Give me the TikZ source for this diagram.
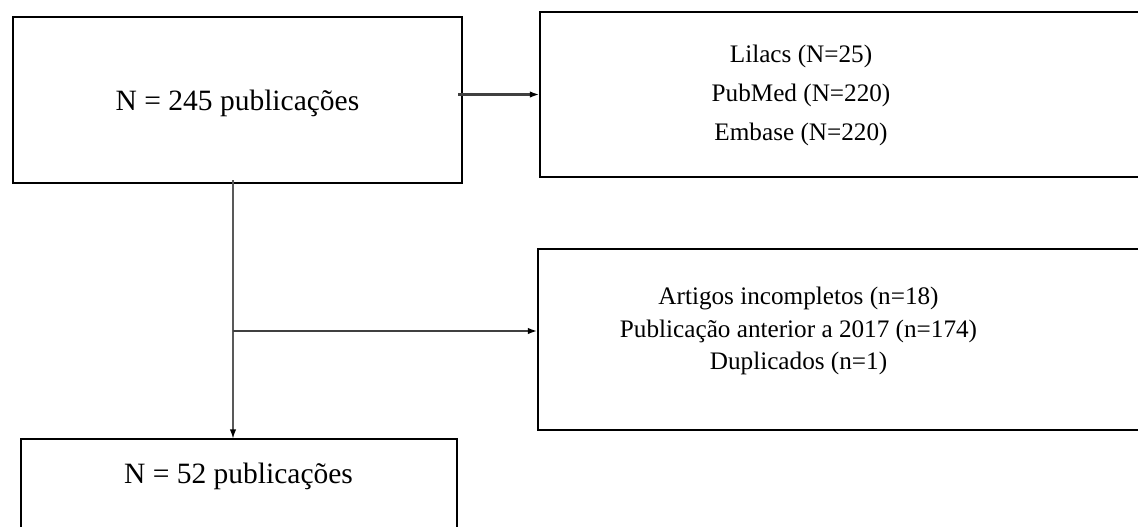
\documentclass[tikz,border=0pt]{standalone}
\usepackage{fontspec}
\setmainfont{Liberation Serif}
\usetikzlibrary{arrows.meta}
\begin{document}
\begin{tikzpicture}[x=0.5pt,y=-0.5pt,
  box/.style={draw=black,line width=1pt,rectangle,inner sep=0pt,outer sep=0pt},
  bigtxt/.style={font=\fontsize{14.75pt}{18pt}\selectfont,inner sep=0pt,anchor=base},
  smalltxt/.style={font=\fontsize{12.6pt}{16pt}\selectfont,inner sep=0pt,anchor=base},
  tip/.style={-{Latex[length=4.8pt,width=3.2pt,color=black]}},
  hline/.style={draw=black!75,line width=1.3pt,tip},
  varr/.style={draw=black!65,line width=0.9pt,tip}]
\useasboundingbox (0,0) rectangle (1138,526);
\clip (0,0) rectangle (1138,526);
% boxes
\node[box,minimum width=224.5pt,minimum height=83pt] (A) at (237.5,100) {};
\node[box,minimum width=320pt,minimum height=82.5pt] (B) at (859.5,94.5) {};
\node[box,minimum width=321.25pt,minimum height=90.25pt] (D) at (858.75,339.25) {};
\node[box,minimum width=218pt,minimum height=80.5pt] (C) at (239,519.5) {};
% texts
\node[bigtxt] (ta) at (237.5,110) {N = 245 publicações};
\node[bigtxt] (tc) at (238.5,483) {N = 52 publicações};
\node[smalltxt] (b1) at (801,62) {Lilacs (N=25)};
\node[smalltxt] (b2) at (801,101) {PubMed (N=220)};
\node[smalltxt] (b3) at (801,140) {Embase (N=220)};
\node[smalltxt] (d1) at (798.5,304) {Artigos incompletos (n=18)};
\node[smalltxt] (d2) at (798.5,337) {Publicação anterior a 2017 (n=174)};
\node[smalltxt] (d3) at (798.5,369) {Duplicados (n=1)};
% connectors
\coordinate (vtop) at (233,180);
\coordinate (br) at (233,331);
\draw[hline] ([xshift=-2pt]A.east |- B.west) -- (B.west);
\draw[varr] (vtop) -- (vtop |- C.north);
\draw[hline] (br) -- (br -| D.west);
\end{tikzpicture}
\end{document}
